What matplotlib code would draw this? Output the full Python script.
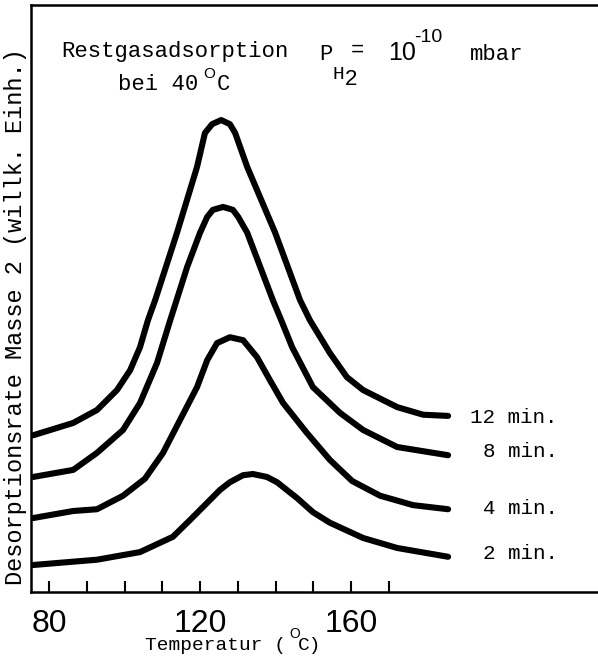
import matplotlib.pyplot as plt

# Desorption spectra, mass 2, residual gas adsorption at 40 C
# temperature in deg C, rate in arbitrary units (0..100 = axis height)
t_12 = [75.8, 86.4, 92.7, 98.0, 101.5, 104.1, 106.2, 108.1, 113.9, 119.2, 121.3, 123.2, 125.6,
        127.9, 129.3, 132.5, 139.9, 146.5, 149.1, 154.4, 158.9, 163.2, 172.2, 179.1, 185.7]
s_12 = [26.7, 28.8, 31.0, 34.4, 37.8, 41.7, 46.3, 49.7, 61.2, 72.4, 78.2, 79.7, 80.4,
        79.7, 78.2, 72.4, 61.2, 49.7, 46.3, 40.7, 36.6, 34.4, 31.5, 30.2, 30.0]

t_8 = [75.8, 86.4, 92.7, 99.6, 104.1, 108.6, 112.1, 116.6, 120.0, 121.9, 123.4, 126.1,
       128.7, 130.1, 132.5, 139.3, 141.5, 144.4, 149.9, 157.1, 163.2, 172.2, 185.7]
s_8 = [19.6, 20.8, 23.7, 27.6, 32.2, 39.0, 46.3, 55.4, 61.2, 63.9, 65.1, 65.6,
       65.1, 63.9, 61.2, 49.7, 46.3, 41.7, 34.9, 30.5, 27.6, 24.7, 23.3]

t_4 = [75.8, 86.4, 92.7, 99.6, 105.4, 110.2, 114.7, 119.2, 121.9, 124.5, 127.9, 131.4,
       135.1, 138.5, 142.0, 148.3, 154.4, 160.3, 167.7, 176.4, 185.7]
s_4 = [12.6, 13.8, 14.1, 16.4, 19.3, 23.7, 29.3, 34.9, 39.5, 42.4, 43.4, 42.9,
       40.0, 36.1, 32.2, 27.1, 22.5, 18.9, 16.4, 14.8, 14.1]

t_2 = [75.8, 92.7, 104.1, 112.8, 117.4, 121.9, 125.3, 127.9, 131.4, 134.0, 137.7, 140.4,
       145.7, 149.9, 154.4, 163.2, 172.2, 185.7]
s_2 = [4.6, 5.5, 6.8, 9.4, 12.3, 15.2, 17.4, 18.7, 19.9, 20.1, 19.6, 18.7,
       16.0, 13.6, 11.8, 9.2, 7.5, 6.0]

curve_labels = ["12 min.", "8 min.", "4 min.", "2 min."]
label_y = [29.8, 23.9, 14.3, 6.6]

x_ticks = [80, 90, 100, 110, 120, 130, 140, 150, 160, 170]
x_tick_labels = ["80", "", "", "", "120", "", "", "", "160", ""]

W, H = 598, 667
fig = plt.figure(figsize=(W / 100, H / 100), dpi=100)
ax = fig.add_axes([31 / W, 1 - 592 / H, 1 - 31 / W, 587 / H])

mono = "Liberation Mono"
sans = "Liberation Sans"

for t, s in [(t_12, s_12), (t_8, s_8), (t_4, s_4), (t_2, s_2)]:
    ax.plot(t, s, color="black", lw=4.4, solid_capstyle="round", solid_joinstyle="round")

for lab, yy in zip(curve_labels, label_y):
    ax.text(214.8, yy, lab, ha="right", va="center", family=mono, fontsize=15)

ax.set_xlim(75.23, 225.4)
ax.set_ylim(0, 100)
ax.set_xticks(x_ticks)
ax.set_xticklabels(x_tick_labels, family=sans, fontsize=23)
ax.tick_params(axis="x", direction="in", length=8, width=1.5, pad=12)
ax.set_yticks([])
ax.spines["right"].set_visible(False)
for side in ["left", "top", "bottom"]:
    ax.spines[side].set_linewidth(1.8)


def ftext(px, py, s, **kw):
    # place text by pixel position in the figure (baseline)
    fig.text(px / W, 1 - py / H, s, va="baseline", **kw)


# header
ftext(61, 57, "Restgasadsorption", family=mono, fontsize=16)
ftext(319, 60, "P", family=mono, fontsize=16)
ftext(332, 79, "H", family=mono, fontsize=14)
ftext(345, 85, "2", family=sans, fontsize=16)
ftext(351, 56, "=", family=mono, fontsize=16)
ftext(388, 60, "10", family=sans, fontsize=18)
ftext(414, 42, "-10", family=sans, fontsize=14)
ftext(470, 60, "mbar", family=mono, fontsize=16)
ftext(118, 90, "bei 40", family=mono, fontsize=16)
ftext(203, 78, "O", family=sans, fontsize=11)
ftext(217, 90, "C", family=mono, fontsize=16)

# axis titles
ftext(145, 650, "Temperatur (", family=mono, fontsize=14)
ftext(289, 638, "O", family=sans, fontsize=10)
ftext(298, 650, "C)", family=mono, fontsize=14)
fig.text(16 / W, 1 - 317 / H, "Desorptionsrate Masse 2 (willk. Einh.)", rotation=90,
         ha="center", va="center", family=mono, fontsize=17)

fig.savefig("out.png", dpi=100)
